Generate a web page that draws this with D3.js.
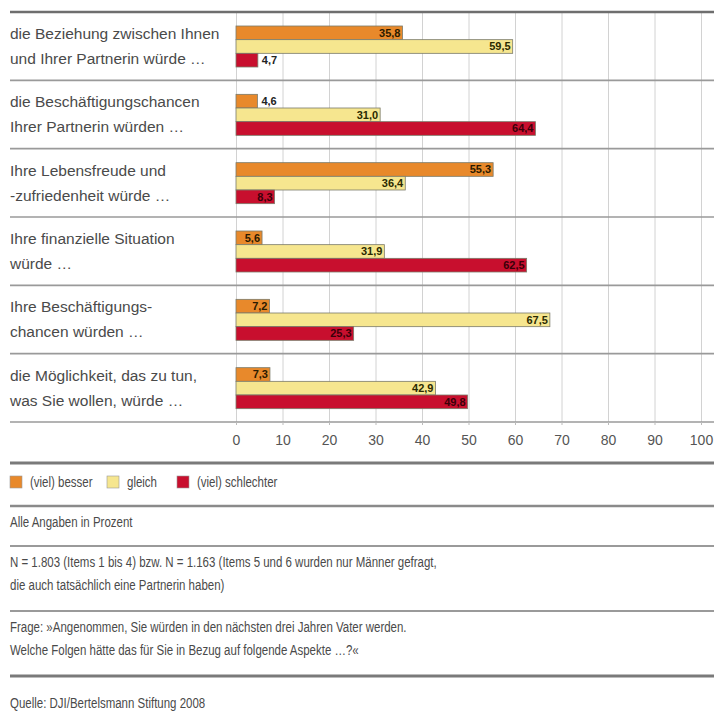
<!DOCTYPE html>
<html>
<head>
  <meta charset="UTF-8">
  <style>
    body { margin: 0; background: #fff; }
    svg { display: block; font-family: 'Liberation Sans', sans-serif; }
    .cat { font-size: 15.5px; fill: #4a4a4a; }
    .note { font-size: 14px; fill: #4a4a4a; }
    .val { font-size: 11px; font-weight: bold; }
    .tick text { font-size: 14px; fill: #555; font-family: 'Liberation Sans', sans-serif; }
  </style>
</head>
<body>
<script src="https://d3js.org/d3.v7.min.js"></script>
<script>
  // data
  const categories = [
    ["die Beziehung zwischen Ihnen", "und Ihrer Partnerin würde …"],
    ["die Beschäftigungschancen", "Ihrer Partnerin würden …"],
    ["Ihre Lebensfreude und", "-zufriedenheit würde …"],
    ["Ihre finanzielle Situation", "würde …"],
    ["Ihre Beschäftigungs-", "chancen würden …"],
    ["die Möglichkeit, das zu tun,", "was Sie wollen, würde …"]
  ];
  const seriesNames = ["(viel) besser", "gleich", "(viel) schlechter"];
  const besser = [35.8, 4.6, 55.3, 5.6, 7.2, 7.3];
  const gleich = [59.5, 31.0, 36.4, 31.9, 67.5, 42.9];
  const schlechter = [4.7, 64.4, 8.3, 62.5, 25.3, 49.8];
  const tickValues = [0, 10, 20, 30, 40, 50, 60, 70, 80, 90, 100];

  const colors = ["#e8892b", "#f6e68f", "#c80f2e"];
  const labelColors = ["#2a1a00", "#2a2a00", "#3a0008"];
  const squeeze = 0.82; // the original font is a condensed one

  const width = 714, height = 711;
  const svg = d3.select("body").append("svg")
    .attr("width", width).attr("height", height);

  const x = d3.scaleLinear().domain([0, 100]).range([236, 701]);
  const y = d3.scaleBand().domain(d3.range(categories.length)).range([12, 422]);
  const yInner = d3.scaleBand().domain(seriesNames).range([14, 55]);

  const de = d3.formatLocale({decimal: ",", thousands: ".", grouping: [3], currency: ["", "€"]});
  const fmt = de.format(".1f");

  // grid lines
  svg.append("g")
    .attr("transform", "translate(0,12)")
    .call(d3.axisBottom(x).tickValues(tickValues).tickSize(410).tickFormat(""))
    .call(g => g.select(".domain").remove())
    .call(g => g.selectAll(".tick line").attr("stroke", "#d2d2d2"));

  // separator lines between groups
  svg.append("g").selectAll("line")
    .data(d3.range(1, categories.length + 1))
    .join("line")
    .attr("x1", 10).attr("x2", width)
    .attr("y1", d => y(d) || y.range()[1]).attr("y2", d => y(d) || y.range()[1])
    .attr("stroke", "#9a9a9a").attr("stroke-width", 1.6);

  svg.append("line")
    .attr("x1", 10).attr("x2", width).attr("y1", 12).attr("y2", 12)
    .attr("stroke", "#6e6e6e").attr("stroke-width", 2.5);

  // category labels
  const cats = svg.append("g").selectAll("text")
    .data(categories)
    .join("text")
    .attr("class", "cat")
    .attr("x", 10)
    .attr("y", (d, i) => y(i) + 27);
  cats.selectAll("tspan")
    .data(d => d)
    .join("tspan")
    .attr("x", 10)
    .attr("dy", (d, i) => i === 0 ? 0 : 25)
    .text(d => d);

  // bars
  const seriesData = [besser, gleich, schlechter];
  seriesData.forEach((vals, s) => {
    const g = svg.append("g");
    g.selectAll("rect")
      .data(vals)
      .join("rect")
      .attr("x", x(0))
      .attr("y", (d, i) => y(i) + yInner(seriesNames[s]))
      .attr("width", d => x(d) - x(0))
      .attr("height", yInner.bandwidth())
      .attr("fill", colors[s])
      .attr("stroke", "#7a7a6a")
      .attr("stroke-width", 0.8);
    g.selectAll("text")
      .data(vals)
      .join("text")
      .attr("class", "val")
      .attr("x", d => d < 5 ? x(d) + 4 : x(d) - 2)
      .attr("y", (d, i) => y(i) + yInner(seriesNames[s]) + yInner.bandwidth() - 3)
      .attr("text-anchor", d => d < 5 ? "start" : "end")
      .attr("fill", d => d < 5 ? "#222" : labelColors[s])
      .text(d => fmt(d));
  });

  // axis
  svg.append("g")
    .attr("transform", "translate(0,422)")
    .call(d3.axisBottom(x).tickValues(tickValues).tickSize(3).tickPadding(10).tickFormat(d3.format("d")))
    .call(g => g.select(".domain").remove())
    .call(g => g.selectAll(".tick line").attr("stroke", "#bbb"));

  // footer rules
  const rules = [[463, 3, "#7a7a7a"], [506, 2.5, "#8a8a8a"], [546, 2, "#9a9a9a"], [611, 2, "#9a9a9a"], [676, 3, "#7a7a7a"]];
  svg.append("g").selectAll("line")
    .data(rules)
    .join("line")
    .attr("x1", 10).attr("x2", width)
    .attr("y1", d => d[0]).attr("y2", d => d[0])
    .attr("stroke-width", d => d[1]).attr("stroke", d => d[2]);

  // legend
  const legendX = [10, 107, 177];
  const lg = svg.append("g").selectAll("g")
    .data(seriesNames)
    .join("g")
    .attr("transform", (d, i) => `translate(${legendX[i]},476)`);
  lg.append("rect")
    .attr("width", 12).attr("height", 12)
    .attr("fill", (d, i) => colors[i])
    .attr("stroke", "#999").attr("stroke-width", 0.6);
  lg.append("text")
    .attr("class", "note")
    .attr("transform", `translate(20,11) scale(${squeeze},1)`)
    .text(d => d);

  // notes
  const notes = [
    ["Alle Angaben in Prozent", 527],
    ["N = 1.803 (Items 1 bis 4) bzw. N = 1.163 (Items 5 und 6 wurden nur Männer gefragt,", 567],
    ["die auch tatsächlich eine Partnerin haben)", 590],
    ["Frage: »Angenommen, Sie würden in den nächsten drei Jahren Vater werden.", 632],
    ["Welche Folgen hätte das für Sie in Bezug auf folgende Aspekte …?«", 655],
    ["Quelle: DJI/Bertelsmann Stiftung 2008", 708]
  ];
  svg.append("g").selectAll("text")
    .data(notes)
    .join("text")
    .attr("class", "note")
    .attr("transform", d => `translate(10,${d[1]}) scale(${squeeze},1)`)
    .text(d => d[0]);
</script>
</body>
</html>
